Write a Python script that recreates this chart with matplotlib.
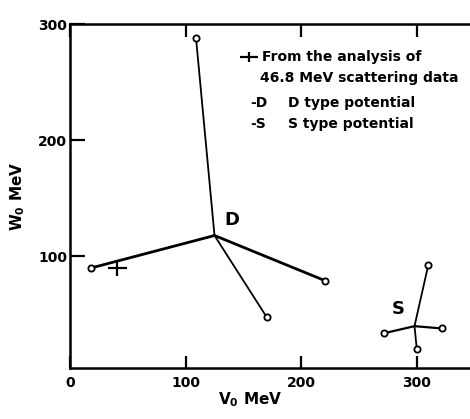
import matplotlib
matplotlib.use("Agg")
import matplotlib.pyplot as plt

# ---- data ----
D_center_V, D_center_W = 125, 118
D_end_V = [109, 18, 221, 170]
D_end_W = [288, 90, 79, 48]

S_center_V, S_center_W = 298, 40
S_end_V = [310, 272, 322, 300]
S_end_W = [93, 34, 38, 20]

exp_V, exp_W = 41, 90
exp_V_err, exp_W_err = 8, 7

x_ticks = [0, 100, 200, 300]
y_ticks = [100, 200, 300]

legend_lines = ["From the analysis of", "46.8 MeV scattering data",
                "D type potential", "S type potential"]
legend_keys = ["-D", "-S"]

plt.rcParams['font.family'] = ['DejaVu Sans']
fs = 10

fig = plt.figure(figsize=(4.70, 4.19), dpi=100)
ax = fig.add_axes([70/470, 1-368/419, 1-70/470, (368-24)/419])
ax.set_xlim(0, 346)
ax.set_ylim(4, 300)

# D branches
for v, w, lw in zip(D_end_V, D_end_W, [1.3, 2.0, 2.0, 1.3]):
    ax.plot([D_center_V, v], [D_center_W, w], color='black', lw=lw,
            solid_capstyle='round', zorder=2)
    ax.plot(v, w, 'o', ms=4.5, mfc='white', mec='black', mew=1.3, zorder=3)

# S branches
for v, w, lw in zip(S_end_V, S_end_W, [1.3, 1.6, 1.6, 1.3]):
    ax.plot([S_center_V, v], [S_center_W, w], color='black', lw=lw,
            solid_capstyle='round', zorder=2)
    ax.plot(v, w, 'o', ms=4.5, mfc='white', mec='black', mew=1.3, zorder=3)

# experimental point
ax.errorbar(exp_V, exp_W, xerr=exp_V_err, yerr=exp_W_err, fmt='none',
            ecolor='black', elinewidth=1.6, capsize=0, zorder=3)

ax.text(140, 131, "D", fontsize=fs+3, fontweight='bold', ha='center', va='center')
ax.text(284, 55, "S", fontsize=fs+3, fontweight='bold', ha='center', va='center')

# legend block
ax.errorbar([0.448], [0.904], xerr=[0.022], yerr=[0.015], fmt='none',
            ecolor='black', elinewidth=1.6, transform=ax.transAxes)
ys = [0.904, 0.843, 0.770, 0.709]
xs = [0.48, 0.475, 0.545, 0.545]
for t, x, y in zip(legend_lines, xs, ys):
    ax.text(x, y, t, transform=ax.transAxes, fontsize=fs, fontweight='bold',
            ha='left', va='center')
for t, y in zip(legend_keys, ys[2:]):
    ax.text(0.45, y, t, transform=ax.transAxes, fontsize=fs, fontweight='bold',
            ha='left', va='center')

# axes styling
ax.spines['right'].set_visible(False)
for s in ['left', 'bottom', 'top']:
    ax.spines[s].set_linewidth(1.8)
ax.set_xticks(x_ticks)
ax.set_yticks(y_ticks)
ax.tick_params(axis='x', direction='in', length=9, width=1.6, top=True,
               labelsize=fs, pad=6)
ax.tick_params(axis='y', direction='in', length=11, width=1.6,
               labelsize=fs, pad=2)
for lab in ax.get_xticklabels() + ax.get_yticklabels():
    lab.set_fontweight('bold')

ax.set_xlabel("V$_\\mathbf{0}$ MeV", fontsize=fs+1, fontweight='bold', labelpad=1)
ax.xaxis.set_label_coords(0.45, -0.065)
ax.set_ylabel("W$_\\mathbf{0}$ MeV", fontsize=fs+1, fontweight='bold', labelpad=8)

fig.savefig("out.png", dpi=100)
